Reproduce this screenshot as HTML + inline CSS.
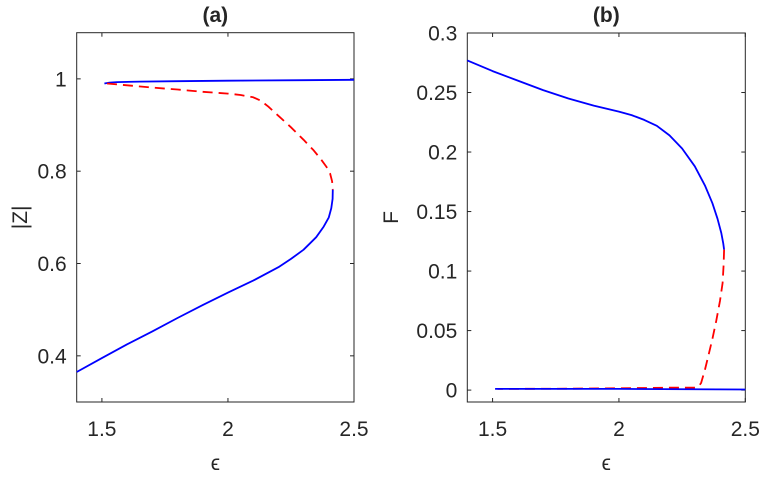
<!DOCTYPE html>
<html><head><meta charset="utf-8"><style>
body{margin:0;background:#fff;}
svg text{font-family:"Liberation Sans",sans-serif;fill:#262626;}
</style></head><body>
<svg id="chart" width="763" height="474"></svg>
<script>
const xTicks=[1.5,2,2.5];
const xTickLabels=["1.5","2","2.5"];
const aYTicks=[0.4,0.6,0.8,1];
const aYTickLabels=["0.4","0.6","0.8","1"];
const bYTicks=[0,0.05,0.1,0.15,0.2,0.25,0.3];
const bYTickLabels=["0","0.05","0.1","0.15","0.2","0.25","0.3"];
const aUpperX=[1.51,1.53,1.56,1.65,1.8,2.0,2.3,2.5];
const aUpperY=[0.99,0.992,0.993,0.994,0.995,0.996,0.997,0.998];
const aRedX=[1.52,1.6,1.7,1.8,1.9,2.0,2.05,2.1,2.13,2.16,2.2,2.25,2.3,2.34,2.37,2.39,2.405,2.413,2.416];
const aRedY=[0.99,0.986,0.981,0.977,0.972,0.968,0.965,0.96,0.953,0.94,0.92,0.895,0.868,0.845,0.825,0.81,0.795,0.778,0.76];
const aLowerX=[2.416,2.415,2.41,2.4,2.38,2.35,2.3,2.25,2.2,2.1,2.0,1.9,1.8,1.7,1.6,1.5,1.4];
const aLowerY=[0.76,0.74,0.72,0.70,0.68,0.657,0.63,0.61,0.592,0.563,0.537,0.51,0.482,0.453,0.425,0.395,0.365];
const bUpperX=[1.4,1.5,1.6,1.7,1.8,1.9,2.0,2.05,2.1,2.15,2.2,2.25,2.3,2.34,2.37,2.39,2.405,2.413,2.416];
const bUpperY=[0.277,0.268,0.26,0.252,0.245,0.239,0.234,0.231,0.227,0.222,0.214,0.203,0.188,0.172,0.157,0.144,0.132,0.123,0.118];
const bRedX=[2.416,2.414,2.41,2.4,2.385,2.37,2.355,2.34,2.325,2.315,2.305,2.2,2.0,1.8,1.52];
const bRedY=[0.118,0.105,0.09,0.075,0.058,0.043,0.03,0.017,0.006,0.003,0.002,0.002,0.0015,0.0012,0.001];
const bLowerX=[1.51,2.0,2.5];
const bLowerY=[0.001,0.001,0.0005];
const NS="http://www.w3.org/2000/svg";
const svg=document.getElementById('chart');
function mk(t,a,p){const e=document.createElementNS(NS,t);for(const k in a)e.setAttribute(k,a[k]);(p||svg).appendChild(e);return e;}
function panel(o){
 const sx=v=>o.x0+(v-1.4)/(2.5-1.4)*(o.x1-o.x0);
 const sy=v=>o.y1-(v-o.ymin)/(o.ymax-o.ymin)*(o.y1-o.y0);
 const g=mk('g',{});
 
 
 const r=mk('rect',{x:o.x0,y:o.y0,width:o.x1-o.x0,height:o.y1-o.y0,fill:'#fff',stroke:'#262626','stroke-width':1},g);
 
 
 xTicks.forEach((v,i)=>{
  const x=sx(v);
  mk('line',{x1:x,x2:x,y1:o.y1,y2:o.y1-4,stroke:'#262626'},g);
  mk('line',{x1:x,x2:x,y1:o.y0,y2:o.y0+4,stroke:'#262626'},g);
  const t=mk('text',{x:x,y:o.y1+34,'text-anchor':'middle','font-size':21},g);
  t.textContent=xTickLabels[i];
  
  
 });
 o.yt.forEach((v,i)=>{
  const y=sy(v);
  mk('line',{x1:o.x0,x2:o.x0+4,y1:y,y2:y,stroke:'#262626'},g);
  mk('line',{x1:o.x1,x2:o.x1-4,y1:y,y2:y,stroke:'#262626'},g);
  const t=mk('text',{x:o.x0-10,y:y+7.5,'text-anchor':'end','font-size':21},g);
  t.textContent=o.yl[i];
  
  
 });
 o.series.forEach(s=>{
  const d=s.x.map((v,i)=>(i?'L':'M')+sx(v).toFixed(1)+','+sy(s.y[i]).toFixed(1)).join('');
  const p=mk('path',{d:d,fill:'none',stroke:s.c,'stroke-width':1.8,'stroke-dasharray':s.dash||'none','stroke-linejoin':'round'},g);
  
  
 });
 const tt=mk('text',{x:(o.x0+o.x1)/2,y:22,'text-anchor':'middle','font-size':21,'font-weight':'bold',fill:'#000'},g);
 tt.textContent=o.title;
 
 
 const xl=mk('text',{x:(o.x0+o.x1)/2,y:470,'text-anchor':'middle','font-size':21,'font-family':'DejaVu Serif'},g);
 xl.textContent='ϵ';
 
 
 const yl=mk('text',{x:0,y:0,'text-anchor':'middle','font-size':21,transform:`translate(${o.ylx},${(o.y0+o.y1)/2}) rotate(-90)`},g);
 yl.textContent=o.ylabel;
 
 
}
panel({name:'panel-a',x0:76.7,x1:354,y0:32.7,y1:402,ymin:0.3,ymax:1.1,yt:aYTicks,yl:aYTickLabels,title:'(a)',ylabel:'|Z|',ylx:27,
 series:[{name:'upper-stable-branch',x:aUpperX,y:aUpperY,c:'#0000ff'},{name:'unstable-branch',x:aRedX,y:aRedY,c:'#ff0000',dash:'10,6'},{name:'lower-stable-branch',x:aLowerX,y:aLowerY,c:'#0000ff'}]});
panel({name:'panel-b',x0:467.3,x1:745.3,y0:33,y1:402,ymin:-0.01,ymax:0.3,yt:bYTicks,yl:bYTickLabels,title:'(b)',ylabel:'F',ylx:398,
 series:[{name:'upper-stable-branch',x:bUpperX,y:bUpperY,c:'#0000ff'},{name:'unstable-branch',x:bRedX,y:bRedY,c:'#ff0000',dash:'10,6'},{name:'lower-stable-branch',x:bLowerX,y:bLowerY,c:'#0000ff'}]});
</script>
</body></html>
